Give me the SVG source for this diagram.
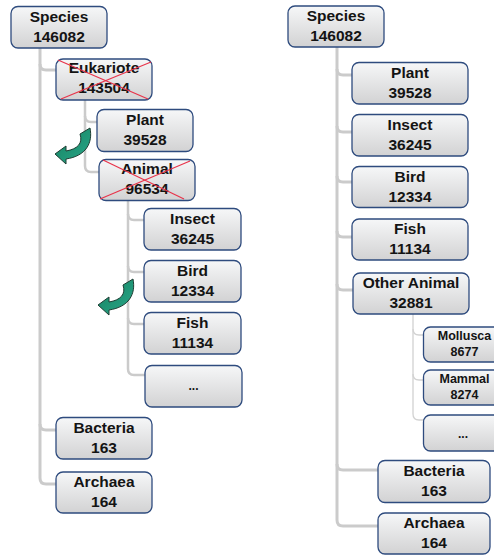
<svg xmlns="http://www.w3.org/2000/svg" width="494" height="555" viewBox="0 0 494 555">
<defs>
<linearGradient id="g" x1="0" y1="0" x2="0" y2="1">
<stop offset="0" stop-color="#f6f7f8"/>
<stop offset="1" stop-color="#d2d2d3"/>
</linearGradient>
<linearGradient id="ga" x1="0" y1="0" x2="1" y2="1">
<stop offset="0" stop-color="#14805f"/>
<stop offset="1" stop-color="#2aa88a"/>
</linearGradient>
<path id="arrow" d="M80,134 L90,128 C93,143 86,156 66,159 L66,164 L55,154 L66,146 L66,151 C78,149 83,143 80,134 Z"/>
</defs>
<style>
.b{fill:url(#g);stroke:#2e4b7e;stroke-width:1.3}
.t{font-family:"Liberation Sans",Arial,sans-serif;font-weight:bold;font-size:15.5px;text-anchor:middle;fill:#141414}
.s{font-size:12.5px}
.d{font-size:12px}
.c{fill:none;stroke:#cbcbcb;stroke-width:3}
.c2{fill:none;stroke:#d2d2d2;stroke-width:1.3}
.x{stroke:#e8334a;stroke-width:1.2}
.ar{fill:url(#ga);stroke:#1e3d33;stroke-width:1}
</style>
<g id="connectors">
<path class="c" d="M40,48 V478 Q40,484 46,484 H57"/>
<path class="c" d="M40,64 Q40,70 46,70 H57"/>
<path class="c" d="M40,424 Q40,430 46,430 H57"/>
<path class="c" style="stroke-width:2.5" d="M85,100 V166 Q85,172 91,172 H100"/>
<path class="c" style="stroke-width:2.5" d="M85,116 Q85,122 91,122 H98"/>
<path class="c" style="stroke-width:2.5" d="M128,201 V369 Q128,375 134,375 H146"/>
<path class="c" style="stroke-width:2.5" d="M128,214 Q128,220 134,220 H145"/>
<path class="c" style="stroke-width:2.5" d="M128,266 Q128,272 134,272 H145"/>
<path class="c" style="stroke-width:2.5" d="M128,318 Q128,324 134,324 H145"/>
<path class="c" d="M337,47 V520 Q337,526 343,526 H379"/>
<path class="c" d="M337,69 Q337,75 343,75 H353"/>
<path class="c" d="M337,126 Q337,132 343,132 H353"/>
<path class="c" d="M337,176 Q337,182 343,182 H353"/>
<path class="c" d="M337,231 Q337,237 343,237 H353"/>
<path class="c" d="M337,284 Q337,290 343,290 H354"/>
<path class="c" d="M337,464 Q337,470 343,470 H379"/>
<path class="c2" d="M413,314 V414 Q413,420 419,420 H424"/>
<path class="c2" d="M413,329 Q413,335 419,335 H424"/>
<path class="c2" d="M413,374 Q413,380 419,380 H424"/>
</g>
<g id="species-left"><rect class="b" x="11" y="6.5" width="96" height="41.5" rx="7"/><text class="t" x="59" y="22">Species</text><text class="t" x="59" y="42">146082</text></g>
<g id="eukariote"><rect class="b" x="56" y="59" width="96" height="41" rx="7"/><text class="t" x="104" y="73">Eukariote</text><text class="t" x="104" y="93">143504</text>
<line class="x" x1="58" y1="60" x2="148" y2="99"/><line class="x" x1="61" y1="99" x2="151" y2="62"/></g>
<g id="plant-left"><rect class="b" x="97" y="109.5" width="96" height="42" rx="7"/><text class="t" x="145" y="125">Plant</text><text class="t" x="145" y="145">39528</text></g>
<g id="animal"><rect class="b" x="99" y="159.5" width="96" height="41" rx="7"/><text class="t" x="147" y="174">Animal</text><text class="t" x="147" y="194">96534</text>
<line class="x" x1="103" y1="160" x2="184" y2="199"/><line class="x" x1="100" y1="199" x2="190" y2="161"/></g>
<g id="insect-left"><rect class="b" x="144" y="208.5" width="97" height="41.5" rx="7"/><text class="t" x="192.5" y="224">Insect</text><text class="t" x="192.5" y="244">36245</text></g>
<g id="bird-left"><rect class="b" x="144" y="260.5" width="97" height="41.5" rx="7"/><text class="t" x="192.5" y="276">Bird</text><text class="t" x="192.5" y="296">12334</text></g>
<g id="fish-left"><rect class="b" x="144" y="312.5" width="97" height="41.5" rx="7"/><text class="t" x="192.5" y="328">Fish</text><text class="t" x="192.5" y="348">11134</text></g>
<g id="more-left"><rect class="b" x="145" y="365.5" width="97" height="41.5" rx="7"/><text class="t d" x="193.5" y="390">...</text></g>
<g id="bacteria-left"><rect class="b" x="56" y="417.5" width="96" height="41.5" rx="7"/><text class="t" x="104" y="433">Bacteria</text><text class="t" x="104" y="453">163</text></g>
<g id="archaea-left"><rect class="b" x="56" y="472" width="96" height="41" rx="7"/><text class="t" x="104" y="487">Archaea</text><text class="t" x="104" y="507">164</text></g>
<g id="arrow1"><use href="#arrow" class="ar"/></g>
<g id="arrow2"><use href="#arrow" class="ar" transform="translate(43,151)"/></g>
<g id="species-right"><rect class="b" x="288" y="6" width="96" height="41" rx="7"/><text class="t" x="336" y="21">Species</text><text class="t" x="336" y="41">146082</text></g>
<g id="plant-right"><rect class="b" x="352" y="62.5" width="116" height="41.5" rx="7"/><text class="t" x="410" y="78">Plant</text><text class="t" x="410" y="98">39528</text></g>
<g id="insect-right"><rect class="b" x="352" y="114.5" width="116" height="41.5" rx="7"/><text class="t" x="410" y="130">Insect</text><text class="t" x="410" y="150">36245</text></g>
<g id="bird-right"><rect class="b" x="352" y="166.5" width="116" height="41" rx="7"/><text class="t" x="410" y="182">Bird</text><text class="t" x="410" y="202">12334</text></g>
<g id="fish-right"><rect class="b" x="352" y="219" width="116" height="41" rx="7"/><text class="t" x="410" y="234">Fish</text><text class="t" x="410" y="254">11134</text></g>
<g id="other-animal"><rect class="b" x="353" y="273" width="116" height="41" rx="7"/><text class="t" x="411" y="288">Other Animal</text><text class="t" x="411" y="308">32881</text></g>
<g id="mollusca"><rect class="b" x="423.5" y="327" width="82" height="35" rx="7"/><text class="t s" x="464.5" y="340">Mollusca</text><text class="t s" x="464.5" y="356">8677</text></g>
<g id="mammal"><rect class="b" x="423.5" y="370" width="82" height="35" rx="7"/><text class="t s" x="464.5" y="383">Mammal</text><text class="t s" x="464.5" y="399">8274</text></g>
<g id="more-right"><rect class="b" x="423.5" y="415" width="82" height="36" rx="7"/><text class="t d" x="463" y="438">...</text></g>
<g id="bacteria-right"><rect class="b" x="378" y="460.5" width="112" height="42" rx="7"/><text class="t" x="434" y="476">Bacteria</text><text class="t" x="434" y="496">163</text></g>
<g id="archaea-right"><rect class="b" x="378" y="513" width="112" height="41" rx="7"/><text class="t" x="434" y="528">Archaea</text><text class="t" x="434" y="548">164</text></g>
</svg>
